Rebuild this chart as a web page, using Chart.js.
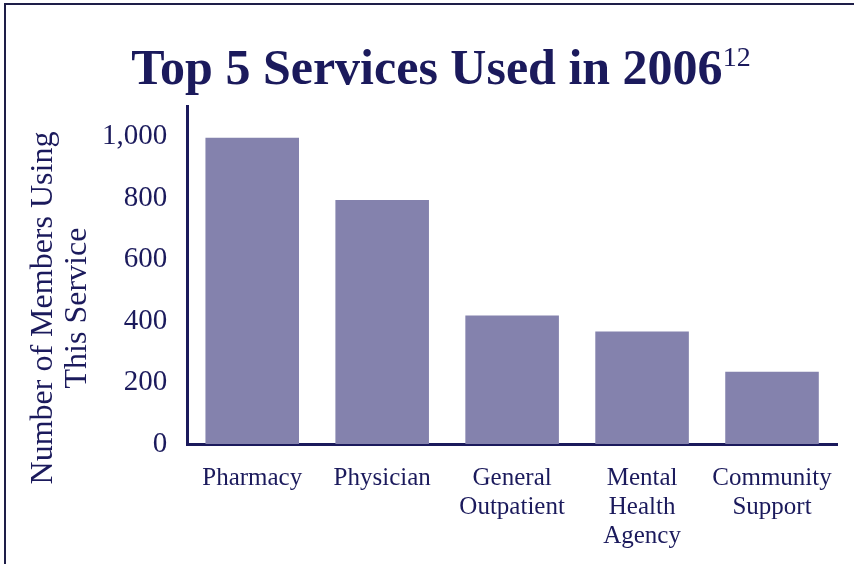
<!DOCTYPE html>
<html>
<head>
<meta charset="utf-8">
<script src="https://cdn.jsdelivr.net/npm/chart.js@4"></script>
<style>
  html, body { margin: 0; padding: 0; background: #fff; }
  #wrap { position: relative; width: 854px; height: 564px; overflow: hidden; }
  #frame { position: absolute; left: 4px; top: 3px; right: -10px; bottom: -10px;
           border-left: 2px solid #1e1e48; border-top: 2px solid #1e1e48; }
  #title { position: absolute; left: 14px; width: 854px; top: 38px; text-align: center;
           font-family: "Liberation Serif", serif; font-weight: bold; font-size: 50px; color: #1b1a5c; white-space: nowrap; }
  #title sup { font-size: 28px; font-weight: normal; vertical-align: 18px; line-height: 0; }
  canvas { position: absolute; left: 0; top: 0; }
</style>
</head>
<body>
<div id="wrap">
  <div id="frame"></div>
  <canvas id="chart" width="854" height="564"></canvas>
  <div id="title">Top 5 Services Used in 2006<sup>12</sup></div>
</div>
<script>
// values
const services = [['Pharmacy'], ['Physician'], ['General', 'Outpatient'], ['Mental', 'Health', 'Agency'], ['Community', 'Support']];
const members = [997, 794, 418, 366, 235];
const yTicks = [0, 200, 400, 600, 800, 1000];
const yTitle = ['Number of Members Using', 'This Service'];

const navy = '#1b1a5c';
const serif = '"Liberation Serif", serif';

// y axis title, drawn by hand so it can sit a bit lower than the plot centre like the original
const yTitlePlugin = {
    id: 'yTitle',
    afterDraw(chart) {
        const c = chart.ctx;
        c.save();
        c.fillStyle = navy;
        c.font = '32px ' + serif;
        c.textAlign = 'center';
        c.textBaseline = 'middle';
        c.translate(0, 308);
        c.rotate(-Math.PI / 2);
        c.fillText(yTitle[0], 0, 44);
        c.fillText(yTitle[1], 0, 78);
        c.restore();
    }
};

const ctx = document.getElementById('chart').getContext('2d');
new Chart(ctx, {
    type: 'bar',
    data: {
        labels: services,
        datasets: [{
            data: members,
            backgroundColor: '#8482ad',
            borderWidth: 0,
            categoryPercentage: 1,
            barPercentage: 0.72
        }]
    },
    options: {
        responsive: false,
        animation: false,
        layout: { padding: { top: 106, right: 17, left: 82, bottom: -7 } },
        plugins: { legend: { display: false }, tooltip: { enabled: false } },
        scales: {
            x: {
                grid: { display: false, drawTicks: false },
                border: { color: navy, width: 3 },
                ticks: { color: navy, font: { family: serif, size: 25, lineHeight: 1.16 }, padding: 20, maxRotation: 0, autoSkip: false }
            },
            y: {
                min: 0,
                max: 1100,
                afterBuildTicks: axis => { axis.ticks = yTicks.map(v => ({ value: v })); },
                grid: { display: false, drawTicks: false },
                border: { color: navy, width: 3 },
                ticks: {
                    color: navy,
                    font: { family: serif, size: 29 },
                    padding: 20,
                    callback: v => v.toLocaleString('en-US')
                }
            }
        }
    },
    plugins: [yTitlePlugin]
});
</script>
</body>
</html>
